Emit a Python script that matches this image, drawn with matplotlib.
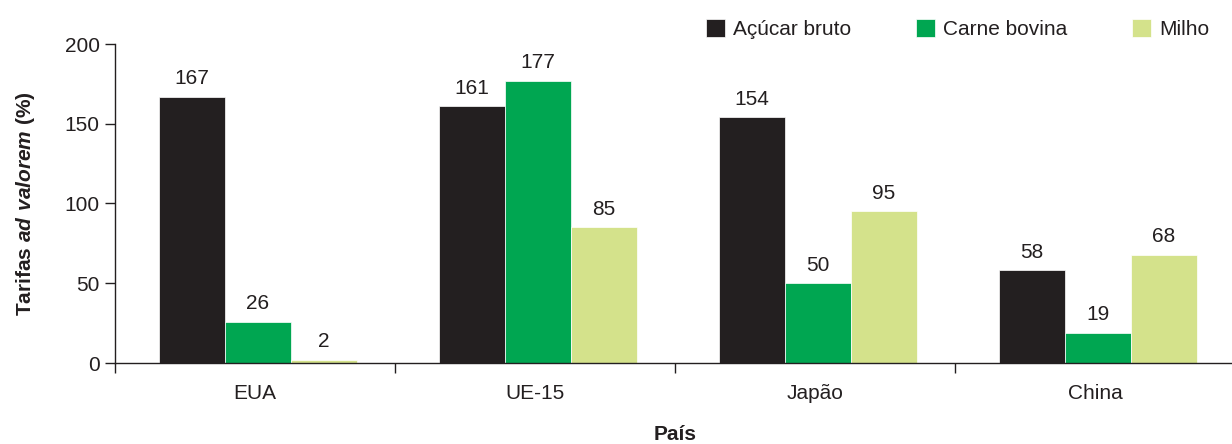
import numpy as np
import matplotlib
matplotlib.use("Agg")
from matplotlib import pyplot as plt

plt.rcParams["font.family"] = ["Liberation Sans", "DejaVu Sans"]
plt.rcParams["mathtext.fontset"] = "custom"
plt.rcParams["mathtext.bfit"] = "Liberation Sans:italic:bold"
plt.rcParams["mathtext.rm"] = "Liberation Sans"

paises = ["EUA", "UE-15", "Japão", "China"]
series = ["Açúcar bruto", "Carne bovina", "Milho"]
acucar = [167, 161, 154, 58]
carne = [26, 177, 50, 19]
milho = [2, 85, 95, 68]
cores = ["#231f20", "#00a651", "#d4e28b"]

INK = "#231f20"
FS = 15

fig = plt.figure(figsize=(12.32, 4.44), dpi=100)
ax = fig.add_axes([115 / 1232, 81 / 444, 1120 / 1232, 319 / 444])

x = np.arange(len(paises))
w = 0.236
for i, (vals, nome, cor) in enumerate(zip([acucar, carne, milho], series, cores)):
    pos = x + 0.01 + (i - 1) * w
    bars = ax.bar(pos, vals, width=w, color=cor, edgecolor="white",
                  linewidth=0.5, label=nome)
    for b, v in zip(bars, vals):
        ax.annotate(str(v), (b.get_x() + b.get_width() / 2, b.get_height()),
                    xytext=(0, 6), textcoords="offset points",
                    ha="center", va="bottom", fontsize=FS, color=INK)

ax.set_xlim(-0.5, 3.5)
ax.set_ylim(0, 200)
ax.set_yticks([0, 50, 100, 150, 200])

ax.set_xticks(x)
ax.set_xticklabels(paises)
ax.set_xticks([-0.5, 0.5, 1.5, 2.5, 3.5], minor=True)
ax.tick_params(axis="x", which="major", length=0, pad=15, labelsize=FS, colors=INK)
ax.tick_params(axis="x", which="minor", length=7, width=1, color=INK)
ax.tick_params(axis="y", length=7, width=1, pad=4, labelsize=FS, colors=INK)

for s in ["top", "right"]:
    ax.spines[s].set_visible(False)
for s in ["left", "bottom"]:
    ax.spines[s].set_color(INK)
    ax.spines[s].set_linewidth(1)

ax.set_xlabel("País", fontsize=FS, fontweight="bold", color=INK, labelpad=16)
ax.set_ylabel(r"Tarifas $\mathbfit{ad\ valorem}$ (%)", fontsize=FS,
              fontweight="bold", color=INK, labelpad=20)

leg = ax.legend(loc="upper right", bbox_to_anchor=(1228 / 1232, 1.0),
                bbox_transform=fig.transFigure, ncol=3, frameon=False,
                fontsize=FS, handlelength=0.9, handleheight=0.95,
                handletextpad=0.4, columnspacing=3.1, borderaxespad=0.5)
for t in leg.get_texts():
    t.set_color(INK)

fig.savefig("out.png", dpi=100)
